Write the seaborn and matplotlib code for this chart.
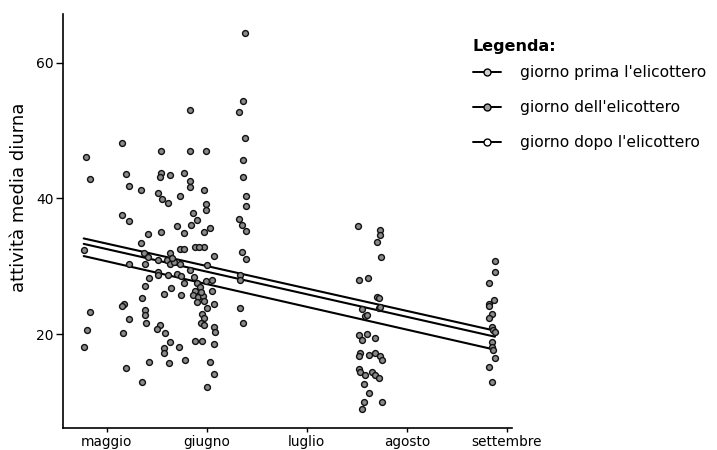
import numpy as np
import pandas as pd
import matplotlib
matplotlib.use("Agg")
import matplotlib.pyplot as plt
from matplotlib.lines import Line2D
import seaborn as sns

# ---- data (x = months after 1 May: 0 = maggio, 1 = giugno, ...) ----
mesi = ["maggio", "giugno", "luglio", "agosto", "settembre"]
y_ticks = [20, 40, 60]

x_maggio = [-0.21, -0.17, -0.23, -0.17, -0.20, -0.23]
y_maggio = [46.1, 42.8, 32.4, 23.2, 20.6, 18.1]

x_fine_maggio = [0.83, 0.15, 0.54, 0.83, 0.99, 0.19, 0.54, 0.53, 0.63, 0.77,
                 0.22, 0.34, 0.83, 0.83, 0.97, 0.51, 0.55, 0.61, 0.73, 0.99,
                 0.99, 0.86, 0.15, 0.22, 0.90, 0.70, 0.77, 0.84, 0.97, 1.03,
                 0.41, 0.54, 0.34, 0.73, 0.77, 0.63, 0.88, 0.97, 0.92, 0.37,
                 0.41, 1.07, 0.22, 0.60, 0.63, 0.67, 0.73, 0.65, 0.38, 0.51,
                 1.00, 0.51, 0.51, 0.61, 0.70, 0.74, 0.83, 0.87, 0.42, 0.77,
                 0.90, 0.93, 0.88, 0.86, 0.91, 0.96, 0.99, 1.05, 1.05, 0.94,
                 0.97, 0.90, 0.38, 0.64, 0.57, 0.74, 0.35, 0.17, 0.15, 1.00,
                 1.07, 0.38, 0.38, 0.39, 0.95, 0.97, 0.94, 0.97, 1.07, 1.08,
                 0.22, 0.53, 0.50, 0.16, 0.58, 0.88, 0.95, 0.63, 0.72, 1.07,
                 0.57, 0.57, 0.42, 0.62, 0.78, 1.03, 0.19, 1.07, 0.35, 1.00]
y_fine_maggio = [53.0, 48.2, 47.0, 47.0, 47.0, 43.6, 43.8, 43.2, 43.5, 43.7,
                 41.8, 41.2, 42.5, 41.7, 41.2, 40.8, 39.9, 39.4, 40.3, 39.2,
                 38.3, 37.9, 37.6, 36.6, 36.8, 35.9, 34.9, 36.1, 35.1, 35.6,
                 34.7, 35.0, 33.5, 32.5, 32.6, 32.0, 32.8, 32.9, 32.9, 31.9,
                 31.4, 31.5, 30.4, 30.9, 30.4, 30.6, 30.3, 31.2, 30.3, 30.9,
                 30.2, 29.2, 28.7, 28.7, 28.8, 28.5, 29.5, 28.4, 28.2, 27.5,
                 27.6, 27.0, 26.4, 25.8, 25.4, 25.6, 27.8, 28.0, 26.4, 26.2,
                 24.9, 24.8, 27.1, 26.8, 25.9, 25.8, 25.3, 24.5, 24.2, 23.9,
                 24.5, 23.6, 22.8, 21.6, 22.9, 22.4, 21.7, 21.3, 21.1, 20.3,
                 22.2, 21.3, 20.8, 20.1, 20.1, 19.0, 19.0, 18.9, 18.1, 18.6,
                 17.9, 17.2, 15.9, 15.7, 16.1, 15.9, 15.0, 14.1, 13.0, 12.2]

x_giugno = [1.38, 1.36, 1.32, 1.38, 1.36, 1.36, 1.39, 1.39, 1.32, 1.35,
            1.39, 1.35, 1.39, 1.33, 1.33, 1.33, 1.36]
y_giugno = [64.4, 54.4, 52.8, 48.9, 45.6, 43.2, 40.4, 38.9, 36.9, 36.1,
            35.2, 32.1, 31.1, 28.7, 27.9, 23.9, 21.6]

x_luglio = [2.51, 2.73, 2.73, 2.70, 2.74, 2.52, 2.61, 2.70, 2.72, 2.55,
            2.72, 2.73, 2.58, 2.60, 2.52, 2.60, 2.68, 2.55, 2.53, 2.52,
            2.62, 2.68, 2.73, 2.75, 2.52, 2.53, 2.58, 2.65, 2.68, 2.72,
            2.57, 2.62, 2.57, 2.75, 2.55]
y_luglio = [36.0, 35.3, 34.6, 33.6, 31.3, 28.0, 28.2, 25.5, 25.3, 23.7,
            23.8, 24.0, 22.6, 22.8, 19.9, 20.0, 19.4, 19.1, 17.2, 16.7,
            16.9, 17.2, 16.7, 16.2, 14.9, 14.4, 14.0, 14.4, 14.0, 13.5,
            12.7, 11.3, 10.0, 10.0, 8.9]

x_agosto = [3.88, 3.88, 3.82, 3.87, 3.82, 3.82, 3.85, 3.82, 3.85, 3.86,
            3.88, 3.85, 3.85, 3.86, 3.88, 3.82, 3.85]
y_agosto = [30.7, 29.2, 27.5, 25.0, 24.5, 24.1, 23.0, 22.3, 21.1, 20.6,
            20.3, 18.9, 18.1, 17.6, 16.4, 15.2, 12.9]

# regression lines (intercept at x = 0, slope per month)
gruppi = ["giorno prima l'elicottero", "giorno dell'elicottero",
          "giorno dopo l'elicottero"]
intercette = [33.34, 32.53, 30.73]
pendenze = [-3.31, -3.33, -3.36]

# ---- build tables ----
xs = x_maggio + x_fine_maggio + x_giugno + x_luglio + x_agosto
ys = y_maggio + y_fine_maggio + y_giugno + y_luglio + y_agosto
punti = pd.DataFrame({"mese": xs, "attivita": ys})

x_rng = np.array([min(xs), max(xs)])
righe = []
for g, a, b in zip(gruppi, intercette, pendenze):
    for xv in x_rng:
        righe.append({"gruppo": g, "mese": xv, "attivita": a + b * xv})
linee = pd.DataFrame(righe)

# ---- figure ----
sns.set_theme(style="white")
plt.rcParams["font.family"] = ["DejaVu Sans"]
plt.rcParams["text.color"] = "black"
plt.rcParams["axes.labelcolor"] = "black"

W, H = 717, 450
fig = plt.figure(figsize=(W / 100, H / 100), dpi=100)
ax = fig.add_axes([62.7 / W, 1 - 428.3 / H, (512 - 62.7) / W, (428.3 - 14) / H])

sns.scatterplot(data=punti, x="mese", y="attivita", ax=ax, s=18,
                color="#8a8a8a", edgecolor="#111111", linewidth=1.0,
                zorder=3, legend=False)
sns.lineplot(data=linee, x="mese", y="attivita", units="gruppo",
             estimator=None, color="black", linewidth=1.5, ax=ax,
             zorder=2, legend=False)

ax.set_xlim(-0.44, 4.05)
ax.set_ylim(6.1, 67.2)
ax.set_xticks(range(len(mesi)))
ax.set_xticklabels(mesi, fontsize=9.8)
ax.set_yticks(y_ticks)
ax.set_yticklabels([str(v) for v in y_ticks], fontsize=10)
ax.set_xlabel("")
ax.set_ylabel("attività media diurna", fontsize=13, color="black")
ax.yaxis.set_label_coords(-0.077, 0.558)

for side in ["top", "right"]:
    ax.spines[side].set_visible(False)
for side in ["left", "bottom"]:
    ax.spines[side].set_color("black")
    ax.spines[side].set_linewidth(1.2)
ax.tick_params(axis="x", direction="out", length=3, width=1, pad=2,
               colors="black", bottom=True)
ax.tick_params(axis="y", direction="out", length=5, width=1, pad=1.5,
               colors="black", left=True)
ax.grid(False)

# ---- legend ----
fig.text(473 / W, 1 - 47 / H, "Legenda:", fontsize=11.5, fontweight="bold",
         ha="left", va="center", color="black")
facce = ["#d0d0d0", "#a0a0a0", "#ffffff"]
handles = [Line2D([0], [0], color="black", lw=1.4, marker="o", markersize=5,
                  markerfacecolor=f, markeredgecolor="black", markeredgewidth=1)
           for f in facce]
leg = fig.legend(handles, gruppi, loc="upper left",
                 bbox_to_anchor=(473 / W, 1 - 65 / H), frameon=False,
                 fontsize=11.2, handlelength=1.8, handletextpad=1.25,
                 labelspacing=1.3, borderpad=0, borderaxespad=0)
for t in leg.get_texts():
    t.set_color("black")

fig.savefig("out.png", dpi=100)
